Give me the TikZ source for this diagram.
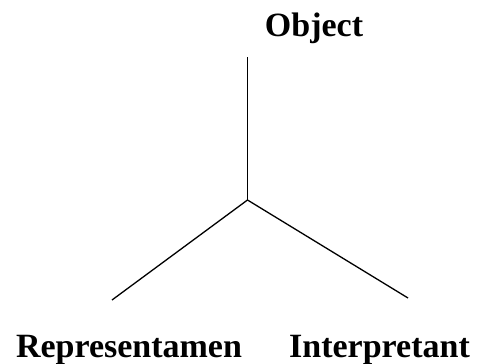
\documentclass[tikz,border=0pt]{standalone}
\usepackage{fontspec}
\setmainfont{Liberation Serif}
\usetikzlibrary{positioning}

\begin{document}
\begin{tikzpicture}[
x=1pt, y=-1pt,
term/.style={font=\fontsize{34}{40}\selectfont\bfseries, anchor=base, inner sep=0pt},
leg/.style={line width=1.3pt} ]

\useasboundingbox (0,0) rectangle (477,364);

\coordinate (hub) at (247.5,200);

\coordinate (objend) at (247.5,57);

\coordinate (repend) at (112,300);

\coordinate (intend) at (408,298);

\node[term](obj) at (314,36) {Object};

\node[term](rep) at (129,357) {Representamen};

\node[term](int) at (379.5,357) {Interpretant};

\draw[leg] (hub) -- (objend);

\draw[leg] (hub) -- (repend);

\draw[leg] (hub) -- (intend);


\end{tikzpicture}
\end{document}
